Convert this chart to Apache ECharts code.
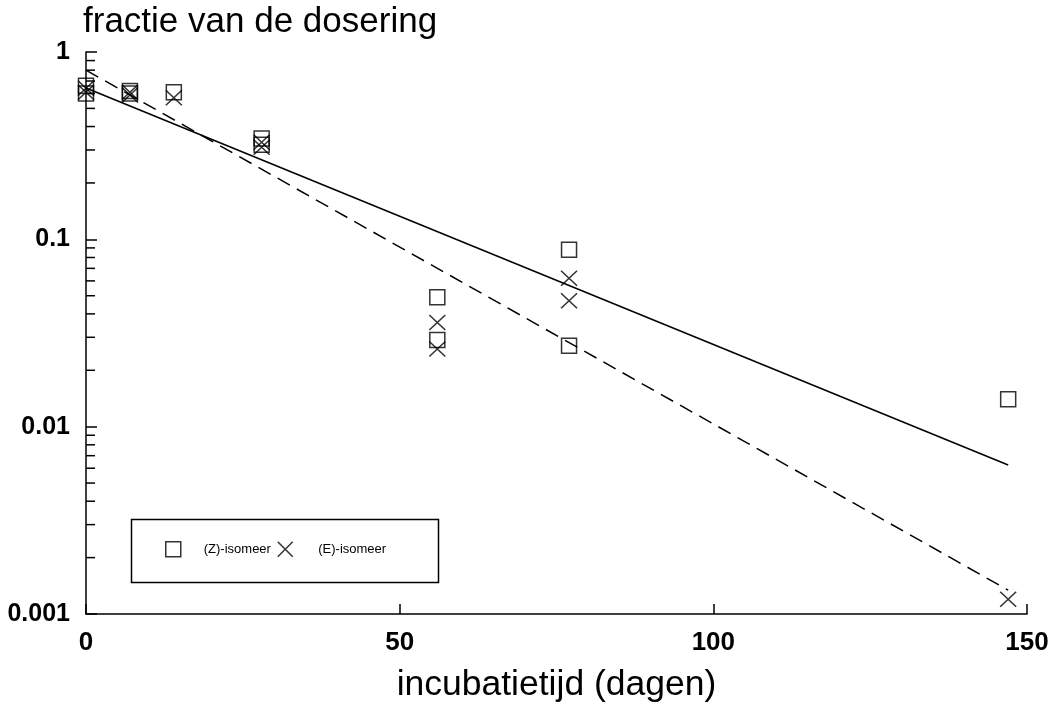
<!DOCTYPE html>
<html>
<head>
<meta charset="utf-8">
<script src="https://cdn.jsdelivr.net/npm/echarts@6/dist/echarts.min.js"></script>
<style>html,body{margin:0;padding:0;background:#fff}#c{width:1056px;height:719px}</style>
</head>
<body>
<div id="c"></div>
<script>
// Data
const zIsomeer = [[0,0.66],[0,0.60],[7,0.62],[7,0.60],[14,0.61],[28,0.345],[28,0.32],[56,0.049],[56,0.029],[77,0.088],[77,0.027],[147,0.014]];
const eIsomeer = [[0,0.64],[0,0.61],[7,0.61],[7,0.59],[14,0.57],[28,0.31],[28,0.33],[56,0.036],[56,0.026],[77,0.062],[77,0.047],[147,0.0012]];
const zFit = [[0,0.642],[147,0.00624]];
const eFit = [[0,0.80],[147,0.00134]];
const yMinorTicks = [0.002,0.003,0.004,0.005,0.006,0.007,0.008,0.009,
                     0.02,0.03,0.04,0.05,0.06,0.07,0.08,0.09,
                     0.2,0.3,0.4,0.5,0.6,0.7,0.8,0.9];
const seriesNames = ['(Z)-isomeer','(E)-isomeer'];
const titleText = 'fractie van de dosering';
const xName = 'incubatietijd (dagen)';

const crossPath = 'path://M0,0L10,10M10,0L0,10';
const font = 'Liberation Sans, Arial, Helvetica, sans-serif';

const chart = echarts.init(document.getElementById('c'), null, {renderer:'canvas'});
chart.setOption({
  animation: false,
  backgroundColor: '#fff',
  title: {
    text: titleText, left: 83, top: 5, padding: 0,
    textStyle: {fontFamily: font, fontSize: 35, fontWeight: 'normal', color: '#000'}
  },
  grid: {left: 86, right: 29, top: 52, bottom: 105, containLabel: false},
  xAxis: {
    type: 'value', min: 0, max: 150, interval: 50,
    name: xName, nameLocation: 'middle', nameGap: 53,
    nameTextStyle: {fontFamily: font, fontSize: 35.5, color: '#000'},
    axisLine: {show: true, onZero: false, lineStyle: {color: '#000', width: 1.5}},
    axisTick: {show: true, inside: true, length: 10, lineStyle: {color: '#000', width: 1.5}},
    axisLabel: {fontFamily: font, fontSize: 26, fontWeight: 'bold', color: '#000', margin: 16},
    splitLine: {show: false}
  },
  yAxis: {
    type: 'log', logBase: 10, min: 0.001, max: 1,
    axisLine: {show: true, lineStyle: {color: '#000', width: 1.5}},
    axisTick: {show: true, inside: true, length: 11, lineStyle: {color: '#000', width: 1.5}},
    axisLabel: {fontFamily: font, fontSize: 25, fontWeight: 'bold', color: '#000', margin: 16,
      formatter: function(v){ return String(+v.toPrecision(6)); }},
    splitLine: {show: false}
  },
  legend: [
    {data: [{name: seriesNames[0], icon: 'rect', itemStyle: {color: 'transparent', borderColor: '#000', borderWidth: 1.5}}],
     left: 165, top: 541, padding: 0, itemWidth: 15, itemHeight: 15,
     textStyle: {fontFamily: font, fontSize: 13, color: '#000', padding: [0,0,0,18]}},
    {data: [{name: seriesNames[1], icon: crossPath, itemStyle: {color: 'transparent', borderColor: '#000', borderWidth: 1.5}}],
     left: 277, top: 541, padding: 0, itemWidth: 16, itemHeight: 15,
     textStyle: {fontFamily: font, fontSize: 13, color: '#000', padding: [0,0,0,20]}}
  ],
  graphic: [{
    type: 'rect', left: 129, top: 517, shape: {width: 307, height: 63},
    style: {fill: 'none', stroke: '#000', lineWidth: 1.5}, silent: true
  }],
  series: [
    {
      type: 'custom', name: 'minorTicks', silent: true, z: 1,
      data: yMinorTicks.map(v => [0, v]),
      renderItem: function(params, api){
        const p = api.coord([0, api.value(1)]);
        return {type: 'line', shape: {x1: p[0], y1: p[1], x2: p[0] + 9, y2: p[1]},
                style: {stroke: '#000', lineWidth: 1.5}};
      }
    },
    {
      type: 'line', name: 'fitZ', data: zFit, showSymbol: false, symbol: 'none',
      lineStyle: {color: '#000', width: 1.5}, silent: true, z: 2
    },
    {
      type: 'line', name: 'fitE', data: eFit, showSymbol: false, symbol: 'none',
      lineStyle: {color: '#000', width: 1.5, type: [14, 8]}, silent: true, z: 2
    },
    {
      type: 'scatter', name: seriesNames[0], data: zIsomeer, symbol: 'rect', symbolSize: 15,
      itemStyle: {color: 'transparent', borderColor: '#000', borderWidth: 1.5}, z: 3
    },
    {
      type: 'scatter', name: seriesNames[1], data: eIsomeer, symbol: crossPath, symbolSize: [16, 15],
      itemStyle: {color: 'transparent', borderColor: '#000', borderWidth: 1.5}, z: 3
    }
  ]
});
</script>
</body>
</html>
